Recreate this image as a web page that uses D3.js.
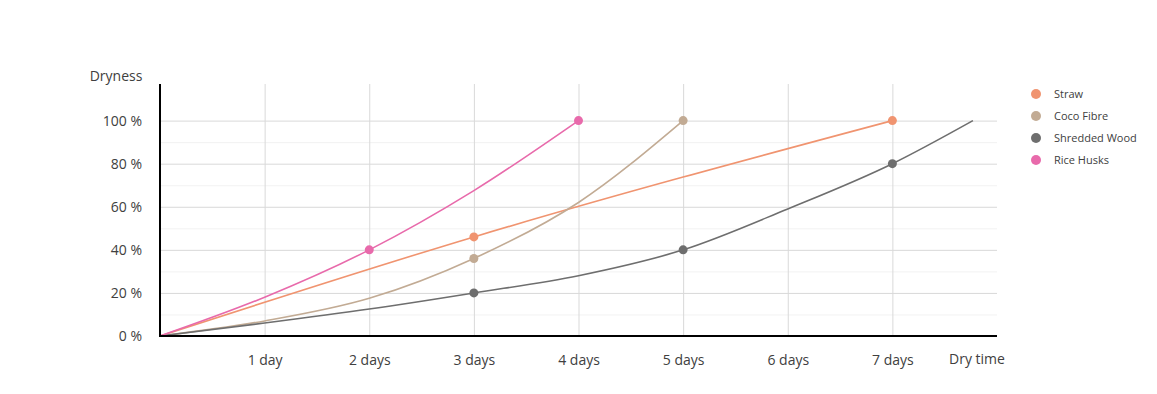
<!DOCTYPE html>
<html>
<head>
<meta charset="utf-8">
<script src="https://cdn.jsdelivr.net/npm/d3@7"></script>
<style>
  body { margin: 0; background: #fff; }
  text { font-family: "Open Sans", "Noto Sans", sans-serif; fill: #404040; }
  .axis .domain { display: none; }
  .axis line { display: none; }
  .grid line { stroke: #d9d9d9; stroke-width: 1; }
  .minor line { stroke: #f2f2f2; stroke-width: 1; }
</style>
</head>
<body>
<svg id="chart" width="1157" height="394"></svg>
<script>
// data
var seriesNames = ["Straw", "Coco Fibre", "Shredded Wood", "Rice Husks"];
var seriesColors = ["#f09470", "#c2ab94", "#6e6e6e", "#e86aab"];

var strawDays = [0, 3, 7],              strawValues = [0, 46, 100];
var cocoDays = [0, 1, 2, 3, 4, 5],      cocoValues = [0, 7, 17.5, 36, 62, 100];
var woodDays = [0, 1, 2, 3, 4, 5, 6, 7, 7.77], woodValues = [0, 6, 12.5, 20, 28, 40, 59, 80, 100];
var riceDays = [0, 1, 2, 3, 4],         riceValues = [0, 18, 40, 67.5, 100];

// which days carry a dot
var strawMarks = [3, 7];
var cocoMarks = [3, 5];
var woodMarks = [3, 5, 7];
var riceMarks = [2, 4];

var xTickDays = [1, 2, 3, 4, 5, 6, 7];
var xTickLabels = ["1 day", "2 days", "3 days", "4 days", "5 days", "6 days", "7 days"];
var yTicks = [0, 20, 40, 60, 80, 100];
var yMinor = [10, 30, 50, 70, 90];

var allDays = [strawDays, cocoDays, woodDays, riceDays];
var allValues = [strawValues, cocoValues, woodValues, riceValues];
var allMarks = [strawMarks, cocoMarks, woodMarks, riceMarks];

var svg = d3.select("#chart");

var x = d3.scaleLinear().domain([0, 8]).range([160, 997]);
var y = d3.scaleLinear().domain([0, 117]).range([336, 84]);

// minor + major horizontal grid
svg.append("g").attr("class", "minor")
  .selectAll("line").data(yMinor).join("line")
  .attr("x1", x(0)).attr("x2", x(8))
  .attr("y1", d => y(d) + 0.5).attr("y2", d => y(d) + 0.5);

svg.append("g").attr("class", "grid")
  .selectAll("line").data(yTicks.slice(1)).join("line")
  .attr("x1", x(0)).attr("x2", x(8))
  .attr("y1", d => y(d) + 0.5).attr("y2", d => y(d) + 0.5);

// vertical grid
svg.append("g").attr("class", "grid")
  .selectAll("line").data(xTickDays).join("line")
  .attr("x1", d => x(d) + 0.5).attr("x2", d => x(d) + 0.5)
  .attr("y1", y(117)).attr("y2", y(0));

// axes (labels only, lines drawn below)
var yAxis = d3.axisLeft(y).tickValues(yTicks).tickFormat(d => d + " %").tickSize(0).tickPadding(18);
svg.append("g").attr("class", "axis").attr("transform", "translate(" + x(0) + ",0)")
  .call(yAxis)
  .selectAll("text").style("font-size", "14px");

var xAxis = d3.axisBottom(x).tickValues(xTickDays)
  .tickFormat((d, i) => xTickLabels[i]).tickSize(0).tickPadding(19);
svg.append("g").attr("class", "axis").attr("transform", "translate(0," + y(0) + ")")
  .call(xAxis)
  .selectAll("text").style("font-size", "14px");

svg.append("text").attr("x", 116).attr("y", 81).attr("text-anchor", "middle")
  .style("font-size", "14px").text("Dryness");
svg.append("text").attr("x", 977).attr("y", 364).attr("text-anchor", "middle")
  .style("font-size", "14px").text("Dry time");

// series
var line = d3.line()
  .x(d => x(d[0])).y(d => y(d[1]))
  .curve(d3.curveMonotoneX);

seriesNames.forEach(function(name, i) {
  var pts = allDays[i].map((d, j) => [d, allValues[i][j]]);
  svg.append("path")
    .attr("d", line(pts))
    .attr("fill", "none")
    .attr("stroke", seriesColors[i])
    .attr("stroke-width", 1.6);
  svg.append("g").selectAll("circle")
    .data(pts.filter(p => allMarks[i].includes(p[0])))
    .join("circle")
    .attr("cx", d => x(d[0])).attr("cy", d => y(d[1]))
    .attr("r", 4.5)
    .attr("fill", seriesColors[i]);
});

// axis lines
svg.append("line").attr("x1", x(0)).attr("x2", x(0)).attr("y1", y(117)).attr("y2", y(0) + 1)
  .attr("stroke", "#000").attr("stroke-width", 2);
svg.append("line").attr("x1", x(0) - 1).attr("x2", x(8)).attr("y1", y(0)).attr("y2", y(0))
  .attr("stroke", "#000").attr("stroke-width", 2);

// legend
var legend = svg.append("g").selectAll("g").data(seriesNames).join("g")
  .attr("transform", (d, i) => "translate(1036," + (94 + i * 22) + ")");
legend.append("circle").attr("r", 5).attr("fill", (d, i) => seriesColors[i]);
legend.append("text").attr("x", 18).attr("dy", "0.35em")
  .style("font-size", "11px").text(d => d);
</script>
</body>
</html>
